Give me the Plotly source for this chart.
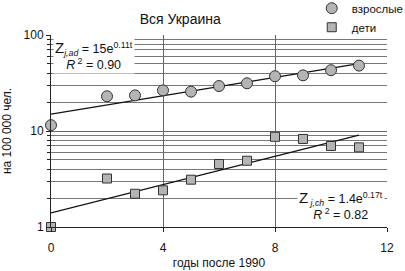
import plotly.graph_objects as go
import math

years = [0, 2, 3, 4, 5, 6, 7, 8, 9, 10, 11]
adults = [11.5, 23, 23.5, 26.5, 25.7, 29.4, 31.4, 37.2, 38, 43, 48]
children = [1.0, 3.2, 2.22, 2.41, 3.11, 4.53, 4.9, 8.7, 8.26, 6.98, 6.76]
trend_x = [0, 11]
adult_fit = (15, 0.11)
child_fit = (1.4, 0.17)


def fit_line(a, b):
    return [a * math.exp(b * t) for t in trend_x]

font = "Liberation Sans, Arial, sans-serif"
fig = go.Figure()
fig.add_trace(go.Scatter(x=trend_x, y=fit_line(*adult_fit), mode="lines",
                         line=dict(color="#111", width=1.3), showlegend=False, hoverinfo="skip"))
fig.add_trace(go.Scatter(x=trend_x, y=fit_line(*child_fit), mode="lines",
                         line=dict(color="#111", width=1.3), showlegend=False, hoverinfo="skip"))
fig.add_trace(go.Scatter(x=years, y=adults, mode="markers", name="взрослые", cliponaxis=False,
                         marker=dict(symbol="circle", size=11, color="#b4b4b4",
                                     line=dict(color="#333", width=1))))
fig.add_trace(go.Scatter(x=years, y=children, mode="markers", name="дети", cliponaxis=False,
                         marker=dict(symbol="square", size=9, color="#b4b4b4",
                                     line=dict(color="#333", width=1))))

fig.update_layout(
    width=405, height=271,
    margin=dict(l=51, r=18, t=35, b=44, autoexpand=False),
    paper_bgcolor="white", plot_bgcolor="white",
    font=dict(family=font, size=12, color="#111"),
    title=dict(text="Вся Украина", x=0.445, xanchor="center", y=0.93, yanchor="middle",
               font=dict(size=14, family=font)),
    legend=dict(x=0.776, y=1.215, xanchor="left", yanchor="top",
                bgcolor="rgba(0,0,0,0)", font=dict(size=11.5), itemsizing="trace",
                tracegroupgap=0, itemwidth=30),
    xaxis=dict(range=[0, 12], tickvals=[0, 4, 8, 12], showgrid=True, gridcolor="#666",
               gridwidth=1, showline=True, linecolor="#222", ticks="outside", ticklen=4,
               tickcolor="#222", zeroline=False, ticklabelstandoff=6,
               title=dict(text="годы после 1990", font=dict(size=12), standoff=4)),
    yaxis=dict(type="log", range=[0, 2], tickvals=[1, 10, 100], ticktext=["1", "10", "100"],
               showgrid=True, gridcolor="#666", gridwidth=1, showline=True, linecolor="#222",
               ticks="outside", ticklen=4, tickcolor="#222", zeroline=False,
               minor=dict(tickvals=[2, 3, 4, 5, 6, 7, 8, 9, 20, 30, 40, 50, 60, 70, 80, 90],
                          showgrid=True, gridcolor="#777", gridwidth=1, ticks="outside",
                          ticklen=3, tickcolor="#222"),
               title=dict(text="на 100 000 чел.", font=dict(size=12), standoff=11)),
)

fig.add_annotation(x=0.005, y=0.99, xref="paper", yref="paper", xanchor="left", yanchor="top",
                   align="center", showarrow=False, bgcolor="white",
                   text="<span style='font-size:15px'>Z</span><sub><i>j,ad</i></sub> = 15e<sup>0.11t</sup><br><i>R</i><sup> 2</sup> = 0.90",
                   font=dict(size=12.5, family=font))
fig.add_annotation(x=0.995, y=0.015, xref="paper", yref="paper", xanchor="right", yanchor="bottom",
                   align="center", showarrow=False, bgcolor="white",
                   text="<span style='font-size:15px'>Z</span><sub><i> j,ch</i></sub> = 1.4e<sup>0.17t</sup><br><i>R</i><sup> 2</sup> = 0.82",
                   font=dict(size=12.5, family=font))

fig.write_html("out.html", config={"displayModeBar": False},
               post_script="document.body.style.margin='0px';")
